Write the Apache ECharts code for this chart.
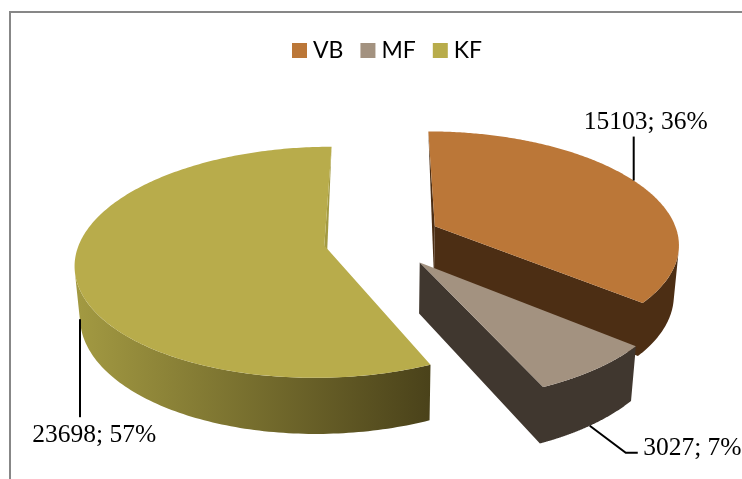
<!DOCTYPE html>
<html><head><meta charset="utf-8">
<style>html,body{margin:0;padding:0;background:#fff}#c{width:742px;height:479px}</style>
<script src="https://cdn.jsdelivr.net/npm/echarts@6/dist/echarts.min.js"></script>
</head><body><div id="c"></div>
<script>
const categories = ['VB', 'MF', 'KF'];
const values = [15103, 3027, 23698];
const topColors = ['#bb7738', '#a39280', '#b8ac4b'];
const wallColors = ['#4c2e14', '#40372f', '#a39a42'];
const drawZ = [2, 4, 3];

// camera of the tilted 3D pie
const cam = { cx: 382.5, cy: 240, S: 244, D: 6.2, tilt: 27.2, explode: 0.24, depth: 0.235 };
const sinT = Math.sin(cam.tilt * Math.PI / 180), cosT = Math.cos(cam.tilt * Math.PI / 180);
function project(X, Y, Z) {
  const w = cam.D + Y * cosT - Z * sinT, v = Y * sinT + Z * cosT, F = cam.S * cam.D;
  return [cam.cx + F * X / w, cam.cy - F * v / w];
}
const total = values.reduce((a, b) => a + b, 0);
const rad = d => d * Math.PI / 180;
let acc = 0;
const slices = values.map(v => {
  const a0 = acc / total * 360; acc += v; const a1 = acc / total * 360;
  const m = rad((a0 + a1) / 2);
  return { a0, a1, ox: Math.sin(m) * cam.explode, oy: Math.cos(m) * cam.explode };
});
// small screen shift per exploded slice
const nudges = [[0, -2.5], [1, 0.5], [-0.5, 0]];
// leader lines: rim angle, rim level (0 top, 1 bottom), then offsets from that anchor
const leaders = [
  { angle: 63.3, level: 0, pts: [[0, -44]], text: [12, -58], align: 'center' },
  { angle: 143.5, level: 1, pts: [[36, 27], [48, 27]], text: [53.4, 22.7], align: 'left' },
  { angle: 259, level: 1, pts: [[0, 98]], text: [-47.8, 116], align: 'left' }
];

function makeRender(i) {
  return function (params, api) {
    const s = slices[i], nd = nudges[i];
    const at = p => [p[0] + nd[0], p[1] + nd[1]];
    const rim = (deg, z) => at(project(s.ox + Math.sin(rad(deg)), s.oy + Math.cos(rad(deg)), z));
    const apex = z => at(project(s.ox, s.oy, z));
    const h = cam.depth, kids = [];
    const faces = (nx, ny, X, Y) => nx * (-X) + ny * (-cam.D * cosT - Y) > 0;
    const style = { fill: wallColors[i] };
    // curved wall: only the part turned to the viewer
    const up = [], low = [];
    for (let d = s.a0; d <= s.a1 + 1e-6; d += (s.a1 - s.a0) / 200) {
      const nx = Math.sin(rad(d)), ny = Math.cos(rad(d));
      if (faces(nx, ny, s.ox + nx, s.oy + ny)) { up.push(rim(d, 0)); low.push(rim(d, -h)); }
    }
    // straight cut walls; the end cut shares one outline with the curved wall
    let merged = false;
    [[s.a0, -90], [s.a1, 90]].forEach(([a, turn]) => {
      const n = rad(a + turn);
      if (!faces(Math.sin(n), Math.cos(n), s.ox, s.oy)) return;
      if (Math.cos(rad(a)) > 0.99) {
        kids.push({ type: 'polygon', shape: { points: [rim(a, 0), apex(0), apex(-h)] }, style });
      } else if (up.length > 1) {
        merged = true;
        kids.push({ type: 'polygon', style,
          shape: { points: [apex(0)].concat(up.slice().reverse(), low, [apex(-h)]) } });
      }
    });
    if (!merged && up.length > 1) {
      const wallStyle = i === 2
        ? { fill: { type: 'linear', x: 0, y: 0, x2: 1, y2: 0, colorStops: [{ offset: 0, color: '#a39a42' }, { offset: 1, color: '#4a421a' }] } }
        : style;
      kids.push({ type: 'polygon', shape: { points: up.concat(low.slice().reverse()) }, style: wallStyle });
    }
    // top face
    const top = [apex(0)];
    for (let k = 0; k <= 240; k++) top.push(rim(s.a0 + (s.a1 - s.a0) * k / 240, 0));
    kids.push({ type: 'polygon', shape: { points: top }, style: { fill: topColors[i] } });
    // leader and label
    const L = leaders[i], A = rim(L.angle, L.level ? -h : 0);
    kids.push({ type: 'polyline', shape: { points: [A].concat(L.pts.map(p => [A[0] + p[0], A[1] + p[1]])) },
      style: { stroke: '#000', lineWidth: 2, fill: null } });
    kids.push({ type: 'text', style: {
      x: A[0] + L.text[0], y: A[1] + L.text[1], text: values[i] + '; ' + Math.round(values[i] / total * 100) + '%',
      fill: '#000', font: '25.5px "Liberation Serif"', align: L.align, verticalAlign: 'middle' } });
    return { type: 'group', children: kids };
  };
}

const chart = echarts.init(document.getElementById('c'), null, { renderer: 'canvas' });
chart.setOption({
  animation: false,
  backgroundColor: '#fff',
  legend: {
    data: categories, left: 292, top: 39, padding: 0, icon: 'rect', itemWidth: 15, itemHeight: 15, itemGap: 17,
    textStyle: { fontFamily: 'Lato', fontSize: 23, color: '#000', padding: [0, 0, 0, 1] }
  },
  graphic: [{ type: 'polyline', silent: true, shape: { points: [[10, 479], [10, 12], [742, 12]] },
    style: { stroke: '#878787', lineWidth: 2, fill: null } }],
  series: categories.map((name, i) => ({
    type: 'custom', name, coordinateSystem: 'none', z: drawZ[i], silent: true,
    itemStyle: { color: topColors[i] }, data: [[values[i]]], renderItem: makeRender(i)
  }))
});
</script></body></html>
